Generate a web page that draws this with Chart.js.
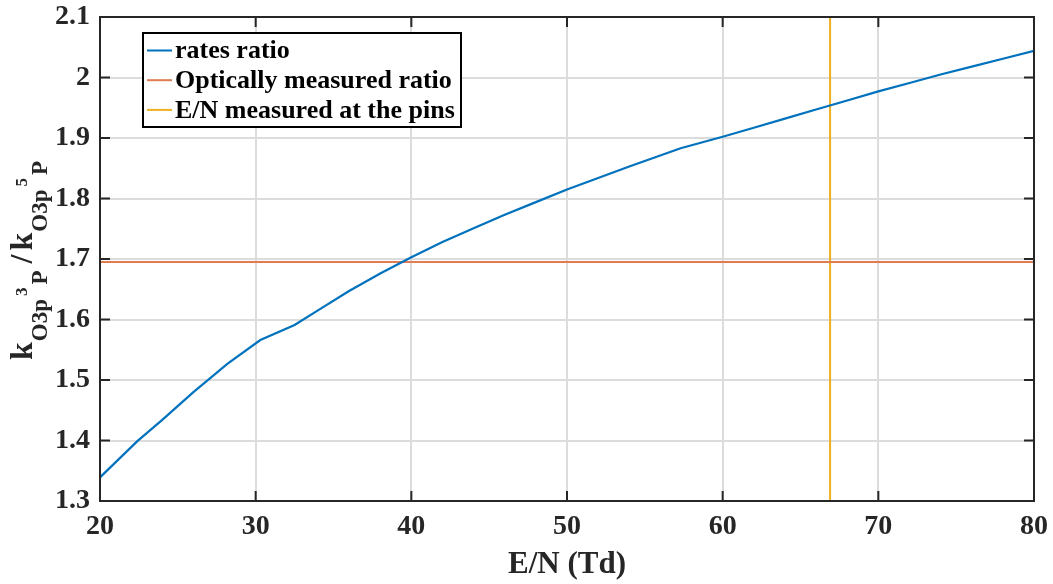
<!DOCTYPE html>
<html>
<head>
<meta charset="utf-8">
<title>rates ratio vs E/N</title>
<script src="https://cdn.jsdelivr.net/npm/chart.js@4/dist/chart.umd.min.js"></script>
<style>
  html, body { margin: 0; padding: 0; background: #fff; }
  #wrap { width: 1053px; height: 584px; }
</style>
</head>
<body>
<div id="wrap"><canvas id="chart" width="1053" height="584"></canvas></div>
<script>
'use strict'

// rates ratio curve
var enValues = [20, 22.4, 24, 26, 28.2, 30.3, 32.5, 34, 36, 38, 40, 42, 44, 46, 48,
  50, 52, 54, 57.3, 60, 62, 64, 66, 68, 70, 72, 74, 76, 78, 80]
var ratioValues = [1.339, 1.399, 1.434, 1.480, 1.527, 1.566, 1.591, 1.615, 1.647, 1.676,
  1.703, 1.728, 1.751, 1.773, 1.794, 1.815, 1.834, 1.853, 1.883, 1.902,
  1.917, 1.932, 1.947, 1.962, 1.977, 1.991, 2.005, 2.018, 2.031, 2.044]

var opticalRatio = 1.695   // horizontal line
var pinsEN = 66.9          // vertical line

var xRange = [20, 80]
var yRange = [1.3, 2.1]
var xTickValues = [20, 30, 40, 50, 60, 70, 80]
var xTickLabels = ['20', '30', '40', '50', '60', '70', '80']
var yTickValues = [1.3, 1.4, 1.5, 1.6, 1.7, 1.8, 1.9, 2.0, 2.1]
var yTickLabels = ['1.3', '1.4', '1.5', '1.6', '1.7', '1.8', '1.9', '2', '2.1']

var seriesLabels = ['rates ratio', 'Optically measured ratio', 'E/N measured at the pins']
var xTitle = 'E/N (Td)'

var SERIF = '"Liberation Serif", "Times New Roman", serif'
var INK = '#262626'

var curve = enValues.map(function (x, i) {
  return { x: x, y: ratioValues[i] }
})
var opticalLine = [{ x: xRange[0], y: opticalRatio }, { x: xRange[1], y: opticalRatio }]
var pinsLine = [{ x: pinsEN, y: yRange[0] }, { x: pinsEN, y: yRange[1] }]


// y label: k_{O3p ^3P} / k_{O3p ^5P}, drawn by hand because of the sub/superscripts
var yLabelParts = [
  ['k', 'main'], ['O3p', 'sub'], ['3', 'sup'], ['P', 'sub'],
  ['/', 'slash'], ['k', 'main'], ['O3p', 'sub'], ['5', 'sup'], ['P', 'sub']
]
var yLabelStyle = {
  main: { font: 'bold 32px ' + SERIF, shift: 0, gap: 1 },
  slash: { font: 'bold 32px ' + SERIF, shift: 0, gap: 4 },
  sub: { font: 'bold 23px ' + SERIF, shift: 15, gap: 3 },
  sup: { font: 'bold 17px ' + SERIF, shift: -5, gap: 3 }
}

function drawYLabel (chart) {
  var ctx = chart.ctx
  var a = chart.chartArea
  var total = 0
  yLabelParts.forEach(function (p) {
    var st = yLabelStyle[p[1]]
    ctx.font = st.font
    total += ctx.measureText(p[0]).width + st.gap
  })
  ctx.save()
  ctx.translate(32, (a.top + a.bottom) / 2 + 2)
  ctx.rotate(-Math.PI / 2)
  ctx.fillStyle = INK
  ctx.textBaseline = 'alphabetic'
  ctx.textAlign = 'left'
  var u = -total / 2
  yLabelParts.forEach(function (p) {
    var st = yLabelStyle[p[1]]
    if (p[1] === 'slash') u += st.gap
    ctx.font = st.font
    ctx.fillText(p[0], u, st.shift)
    u += ctx.measureText(p[0]).width + st.gap
  })
  ctx.restore()
}

function drawLegend (chart) {
  var ctx = chart.ctx
  var a = chart.chartArea
  var left = a.left + 43
  var top = a.top + 16
  var w = 318
  var h = 94
  ctx.save()
  ctx.fillStyle = '#fff'
  ctx.fillRect(left, top, w, h)
  ctx.strokeStyle = '#000'
  ctx.lineWidth = 2
  ctx.strokeRect(left, top, w, h)
  ctx.font = 'bold 26px ' + SERIF
  ctx.textBaseline = 'middle'
  chart.data.datasets.forEach(function (ds, i) {
    var y = top + 17.5 + i * 29.7
    ctx.strokeStyle = ds.borderColor
    ctx.lineWidth = 2
    ctx.beginPath()
    ctx.moveTo(left + 4, y)
    ctx.lineTo(left + 29, y)
    ctx.stroke()
    ctx.fillStyle = '#000'
    ctx.fillText(ds.label, left + 32, y + 1)
  })
  ctx.restore()
}

// matlab like box: frame on all sides, ticks pointing inwards
var matlabBox = {
  id: 'matlabBox',
  afterDraw: function (chart) {
    var ctx = chart.ctx
    var a = chart.chartArea
    var xs = chart.scales.x
    var ys = chart.scales.y
    ctx.save()
    ctx.strokeStyle = INK
    ctx.lineWidth = 2
    ctx.beginPath()
    xTickValues.forEach(function (v) {
      var px = xs.getPixelForValue(v)
      ctx.moveTo(px, a.bottom)
      ctx.lineTo(px, a.bottom - 10)
      ctx.moveTo(px, a.top)
      ctx.lineTo(px, a.top + 10)
    })
    yTickValues.forEach(function (v) {
      var py = ys.getPixelForValue(v)
      ctx.moveTo(a.left, py)
      ctx.lineTo(a.left + 10, py)
      ctx.moveTo(a.right, py)
      ctx.lineTo(a.right - 10, py)
    })
    ctx.stroke()
    ctx.strokeRect(a.left, a.top, a.right - a.left, a.bottom - a.top)
    ctx.restore()
    drawLegend(chart)
    drawYLabel(chart)
  }
}

// fixed axis sizes, no extra room for overflowing tick labels
function fitX (scale) {
  scale.height = 83
  scale.paddingLeft = 0
  scale.paddingRight = 0
}
function fitY (scale) {
  scale.width = 100
  scale.paddingTop = 0
  scale.paddingBottom = 0
}

new Chart(document.getElementById('chart'), {
  type: 'line',
  data: {
    datasets: [
      { label: seriesLabels[0], data: curve, borderColor: '#0072BD', borderWidth: 2.2 },
      { label: seriesLabels[1], data: opticalLine, borderColor: '#E07B52', borderWidth: 2 },
      { label: seriesLabels[2], data: pinsLine, borderColor: '#EDB120', borderWidth: 2 }
    ]
  },
  options: {
    responsive: false,
    animation: false,
    events: [],
    layout: { padding: { top: 17, right: 19, left: 0, bottom: 0 } },
    elements: {
      point: { radius: 0 },
      line: { tension: 0, fill: false }
    },
    plugins: {
      legend: { display: false },
      tooltip: { enabled: false }
    },
    scales: {
      x: {
        type: 'linear',
        min: xRange[0],
        max: xRange[1],
        afterFit: fitX,
        afterBuildTicks: function (scale) {
          scale.ticks = xTickValues.map(function (v) { return { value: v } })
        },
        ticks: {
          padding: 9,
          color: INK,
          font: { family: SERIF, size: 28, weight: 'bold' },
          maxRotation: 0,
          callback: function (v, i) { return xTickLabels[i] }
        },
        grid: { color: '#dcdcdc', lineWidth: 2, drawTicks: false },
        border: { display: false },
        title: {
          display: true,
          text: xTitle,
          color: INK,
          font: { family: SERIF, size: 31, weight: 'bold' },
          padding: { top: 0, bottom: 0 }
        }
      },
      y: {
        type: 'linear',
        min: yRange[0],
        max: yRange[1],
        afterFit: fitY,
        afterBuildTicks: function (scale) {
          scale.ticks = yTickValues.map(function (v) { return { value: v } })
        },
        ticks: {
          padding: 10,
          color: INK,
          font: { family: SERIF, size: 28, weight: 'bold' },
          callback: function (v, i) { return yTickLabels[i] }
        },
        grid: { color: '#dcdcdc', lineWidth: 2, drawTicks: false },
        border: { display: false }
      }
    }
  },
  plugins: [matlabBox]
})
</script>
</body>
</html>
